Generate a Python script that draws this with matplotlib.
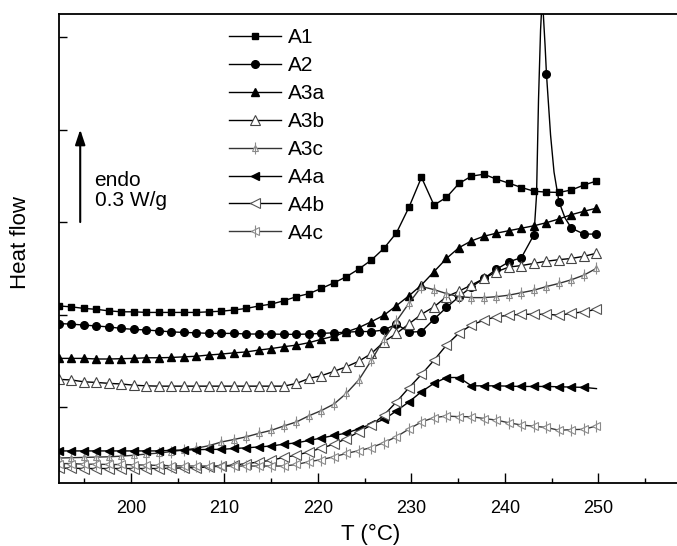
import numpy as np
import matplotlib
matplotlib.use("Agg")
import matplotlib.pyplot as plt
from matplotlib.legend_handler import HandlerTuple

plt.rcParams['font.family'] = ['Liberation Sans', 'DejaVu Sans']

# Temperature grid of the plotted DSC points (°C)
T = np.linspace(192.3, 249.8, 44)

# Heat flow (W/g, curves vertically offset for clarity)
A1 = [0.328, 0.325, 0.320, 0.317, 0.312, 0.309, 0.309, 0.307, 0.307, 0.307,
      0.307, 0.307, 0.309, 0.311, 0.315, 0.320, 0.328, 0.334, 0.345, 0.358,
      0.368, 0.385, 0.403, 0.423, 0.448, 0.477, 0.515, 0.565, 0.648, 0.745,
      0.655, 0.680, 0.725, 0.749, 0.755, 0.739, 0.726, 0.712, 0.700, 0.697,
      0.696, 0.704, 0.720, 0.733]
A2 = [0.271, 0.269, 0.266, 0.263, 0.260, 0.255, 0.252, 0.250, 0.247, 0.244,
      0.242, 0.241, 0.239, 0.239, 0.239, 0.237, 0.237, 0.237, 0.236, 0.236,
      0.237, 0.239, 0.241, 0.243, 0.245, 0.245, 0.250, 0.269, 0.243, 0.245,
      0.285, 0.323, 0.358, 0.390, 0.417, 0.447, 0.471, 0.485, 0.559, 1.080,
      0.666, 0.580, 0.561, 0.561]
# extra readings across the sharp melting peak of A2
A2_peak_T = [243.39, 243.60, 243.82, 243.95, 244.12, 244.30, 244.89, 245.26, 246.44]
A2_peak = [0.688, 0.996, 1.223, 1.300, 1.271, 1.174, 0.882, 0.762, 0.613]
A3a = [0.158, 0.158, 0.158, 0.156, 0.156, 0.157, 0.158, 0.160, 0.160, 0.161,
       0.163, 0.165, 0.169, 0.172, 0.176, 0.179, 0.185, 0.190, 0.196, 0.201,
       0.209, 0.220, 0.230, 0.244, 0.258, 0.277, 0.298, 0.329, 0.361, 0.396,
       0.439, 0.482, 0.517, 0.539, 0.554, 0.564, 0.572, 0.580, 0.588, 0.598,
       0.610, 0.624, 0.635, 0.645]
A3b = [0.090, 0.088, 0.082, 0.080, 0.077, 0.075, 0.071, 0.069, 0.068, 0.068,
       0.068, 0.068, 0.068, 0.068, 0.068, 0.068, 0.068, 0.068, 0.068, 0.077,
       0.093, 0.102, 0.116, 0.131, 0.149, 0.174, 0.212, 0.239, 0.270, 0.301,
       0.325, 0.358, 0.376, 0.396, 0.417, 0.439, 0.454, 0.459, 0.466, 0.473,
       0.478, 0.482, 0.489, 0.499]
A3c = [-0.165, -0.164, -0.163, -0.162, -0.161, -0.159, -0.156, -0.152, -0.149, -0.144,
       -0.139, -0.133, -0.125, -0.113, -0.105, -0.096, -0.085, -0.075, -0.061, -0.048,
       -0.028, -0.011, 0.010, 0.045, 0.089, 0.152, 0.221, 0.279, 0.337, 0.391,
       0.381, 0.368, 0.358, 0.355, 0.355, 0.358, 0.363, 0.371, 0.379, 0.391,
       0.401, 0.413, 0.428, 0.450]
A4a = [-0.142, -0.142, -0.142, -0.142, -0.142, -0.142, -0.142, -0.142, -0.142, -0.140,
       -0.139, -0.138, -0.137, -0.137, -0.134, -0.132, -0.129, -0.126, -0.120, -0.116,
       -0.108, -0.100, -0.092, -0.084, -0.070, -0.055, -0.040, -0.012, 0.017, 0.050,
       0.077, 0.096, 0.096, 0.069, 0.069, 0.069, 0.068, 0.067, 0.067, 0.067,
       0.066, 0.065, 0.064, 0.060]
A4b = [-0.198, -0.198, -0.199, -0.199, -0.199, -0.199, -0.199, -0.199, -0.199, -0.198,
       -0.197, -0.196, -0.194, -0.191, -0.188, -0.183, -0.178, -0.172, -0.163, -0.156,
       -0.145, -0.133, -0.120, -0.102, -0.080, -0.058, -0.026, 0.017, 0.063, 0.106,
       0.152, 0.201, 0.240, 0.266, 0.282, 0.293, 0.298, 0.301, 0.301, 0.301,
       0.298, 0.304, 0.309, 0.317]
A4c = [-0.183, -0.183, -0.185, -0.185, -0.186, -0.186, -0.187, -0.188, -0.189, -0.190,
       -0.191, -0.191, -0.191, -0.191, -0.191, -0.191, -0.191, -0.191, -0.191, -0.186,
       -0.177, -0.170, -0.161, -0.150, -0.141, -0.131, -0.115, -0.096, -0.071, -0.048,
       -0.034, -0.029, -0.031, -0.031, -0.037, -0.042, -0.051, -0.058, -0.062, -0.066,
       -0.075, -0.073, -0.072, -0.061]

labels = ["A1", "A2", "A3a", "A3b", "A3c", "A4a", "A4b", "A4c"]

fig = plt.figure(figsize=(6.77, 5.46), dpi=100)
ax = fig.add_axes([59 / 677, 63 / 546, 632.8 / 677, 469 / 546])

lw = 1.0
ms = 5.0
gray = "#8a8a8a"

h1, = ax.plot(T, A1, color="k", lw=lw, marker="s", ms=ms, mfc="k", mec="k")

# A2: merge grid points with peak readings, markers only on the grid
t_all = np.concatenate([T, A2_peak_T])
y_all = np.concatenate([A2, A2_peak])
order = np.argsort(t_all)
mark = [i for i, o in enumerate(order) if o < len(T)]
h2, = ax.plot(t_all[order], y_all[order], color="k", lw=lw, marker="o",
              ms=ms + 0.5, mfc="k", mec="k", markevery=mark)

h3, = ax.plot(T, A3a, color="k", lw=lw, marker="^", ms=ms + 0.5, mfc="k", mec="k")
h4, = ax.plot(T, A3b, color="k", lw=lw, marker="^", ms=ms + 2, mfc="white",
              mec="#444444", mew=0.8)
h5a, = ax.plot(T, A3c, color="#333333", lw=lw, marker="^", ms=ms, mfc="white",
               mec=gray, mew=0.8)
h5b, = ax.plot(T, A3c, ls="none", marker="|", ms=ms + 3, mec=gray, mew=0.8)
h6, = ax.plot(T, A4a, color="k", lw=lw, marker="<", ms=ms + 0.5, mfc="k", mec="k",
              markevery=list(range(len(T) - 1)))
h7, = ax.plot(T, A4b, color="k", lw=lw, marker="<", ms=ms + 2, mfc="white",
              mec="#555555", mew=0.8)
h8a, = ax.plot(T, A4c, color="#3a3a3a", lw=lw, marker="<", ms=ms + 1, mfc="white",
               mec=gray, mew=0.8)
h8b, = ax.plot(T, A4c, ls="none", marker="|", ms=ms + 3, mec=gray, mew=0.8)

ax.set_xlim(192.3, 260)
ax.set_ylim(-0.246, 1.2745)

ax.set_xticks([200, 210, 220, 230, 240, 250])
ax.set_xticks(np.arange(195, 260, 5), minor=True)
ax.set_yticks([0.0, 0.3, 0.6, 0.9, 1.2])
ax.set_yticklabels([])
ax.tick_params(axis="x", which="major", direction="in", length=7.2, width=1.0,
               labelsize=13, pad=12)
ax.tick_params(axis="x", which="minor", direction="in", length=3.6, width=1.0)
ax.tick_params(axis="y", which="major", direction="in", length=5.5, width=1.0)
ax.tick_params(top=False, right=False)

for s in ("left", "bottom", "top"):
    ax.spines[s].set_linewidth(1.3)
ax.spines["right"].set_visible(False)

ax.text(0.493, -0.109, "T (°C)", transform=ax.transAxes, ha="center",
        va="center", fontsize=16)
ax.text(-0.0616, 0.512, "Heat flow", transform=ax.transAxes, ha="center",
        va="center", rotation=90, fontsize=16)

# scale bar for the endothermic direction
ax.annotate("", xy=(194.57, 0.9), xytext=(194.57, 0.6),
            arrowprops=dict(arrowstyle="-|>,head_length=0.9,head_width=0.3",
                            color="k", lw=1.5, shrinkA=0, shrinkB=0))
ax.text(196.1, 0.736, "endo", ha="left", va="center", fontsize=15)
ax.text(196.1, 0.671, "0.3 W/g", ha="left", va="center", fontsize=15)

handles = [h1, h2, h3, h4, (h5a, h5b), h6, h7, (h8a, h8b)]
leg = ax.legend(handles, labels, loc="upper left",
                bbox_to_anchor=(229 / 677, 1 - 28 / 546),
                bbox_transform=fig.transFigure, frameon=False, fontsize=15,
                handlelength=2.5, handletextpad=0.35, labelspacing=0.43,
                borderpad=0, borderaxespad=0, numpoints=1,
                handler_map={tuple: HandlerTuple(ndivide=1, pad=0)})

fig.savefig("out.png", dpi=100)
